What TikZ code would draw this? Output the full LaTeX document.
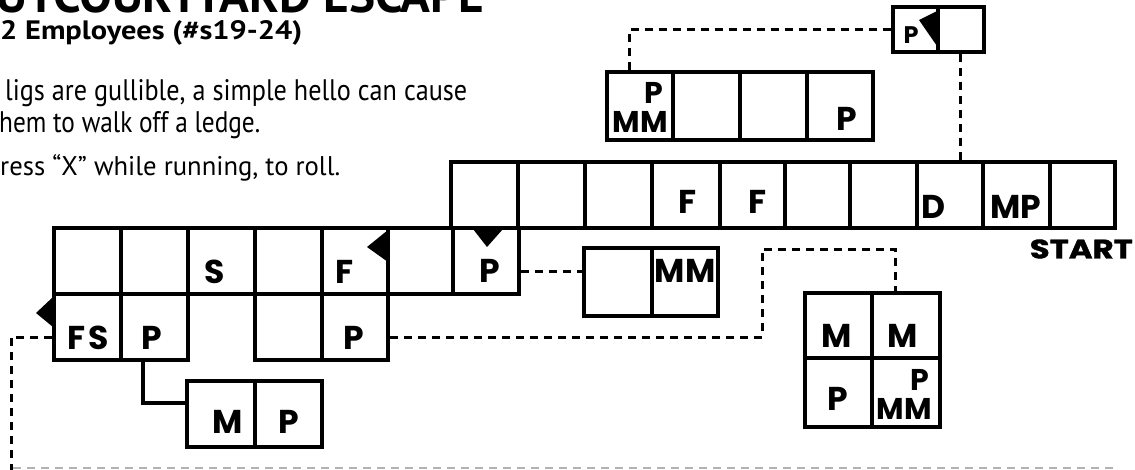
\documentclass[tikz,border=0pt]{standalone}
\usepackage{fontspec}
\setmainfont{PT Sans}
\newfontfamily\cellfont{Poppins}
\newfontfamily\startfont{Poppins}[FakeBold=1.2]
\usetikzlibrary{fit}
\tikzset{
  cell/.style={draw, line width=4pt, inner sep=0pt},
  lab/.style={inner sep=0pt, font=\cellfont\bfseries\fontsize{33}{33}\selectfont},
  labsm/.style={inner sep=0pt, font=\cellfont\bfseries\fontsize{30}{30}\selectfont},
  labxs/.style={inner sep=0pt, font=\cellfont\bfseries\fontsize{24}{24}\selectfont},
  conn/.style={line width=3pt, dash pattern=on 8pt off 6pt},
  solidconn/.style={line width=3.5pt},
  flagmark/.style={fill=black},
  sep/.style={line width=2pt, draw=black!30, dash pattern=on 8pt off 6pt},
  txt/.style={inner sep=0pt, anchor=base west}
}
\begin{document}
\begin{tikzpicture}[x=1pt,y=-1pt]
\useasboundingbox (0,0) rectangle (1135,469);
\clip (0,0) rectangle (1135,469);

% ---------- texts ----------
\node[txt] (title) at (-4,12) {\resizebox{488pt}{!}{\bfseries UTCOURTYARD ESCAPE}};
\node[txt] (sub) at (0,39) {\resizebox{302pt}{19pt}{\bfseries 2 Employees (\#s19-24)}};
\node[txt] (b1) at (5,100) {\resizebox{462pt}{21pt}{ligs are gullible, a simple hello can cause}};
\node[txt] (b2) at (-1,132) {\resizebox{261pt}{21pt}{hem to walk off a ledge.}};
\node[txt] (b3) at (0,175) {\resizebox{340pt}{21pt}{ress “X” while running, to roll.}};

% ---------- upper right row ----------
\node[cell, fit={(451,162)(518,228)}] (u1) {};
\node[cell, fit={(518,162)(585,228)}] (u2) {};
\node[cell, fit={(585,162)(652,228)}] (u3) {};
\node[cell, fit={(652,162)(720,228)}] (u4) {};
\node[cell, fit={(720,162)(785,228)}] (u5) {};
\node[cell, fit={(785,162)(850,228)}] (u6) {};
\node[cell, fit={(850,162)(917,228)}] (u7) {};
\node[cell, fit={(917,162)(983,228)}] (u8) {};
\node[cell, fit={(983,162)(1050,228)}] (u9) {};
\node[cell, fit={(1050,162)(1115,228)}] (u10) {};
\node[lab] (u4t) at (688,202) {F};
\node[lab] (u5t) at (758,202) {F};
\node[lab] (u8t) at (933,207) {D};
\node[lab] (u9t) at (1016,207) {MP};
\node[anchor=east, inner sep=0pt] (start) at (1133,249) {\resizebox{103pt}{19pt}{\startfont\bfseries START}};

% ---------- left row ----------
\node[cell, fit={(54,228)(121,294)}] (l1) {};
\node[cell, fit={(121,228)(188,294)}] (l2) {};
\node[cell, fit={(188,228)(255,294)}] (l3) {};
\node[cell, fit={(255,228)(322,294)}] (l4) {};
\node[cell, fit={(322,228)(388,294)}] (l5) {};
\node[cell, fit={(388,228)(453,294)}] (l6) {};
\node[cell, fit={(453,228)(519,294)}] (l7) {};
\node[lab] (l3t) at (215,272) {S};
\node[lab] (l5t) at (345,272) {F};
\node[lab] (l7t) at (490,271) {P};

% ---------- second row ----------
\node[cell, fit={(54,294)(121,360)}] (d1) {};
\node[cell, fit={(121,294)(188,360)}] (d2) {};
\node[cell, fit={(255,294)(322,360)}] (d4) {};
\node[cell, fit={(322,294)(388,360)}] (d5) {};
\node[lab] (d1t) at (88,338) {F\kern3pt S};
\node[lab] (d2t) at (152,338) {P};
\node[lab] (d5t) at (354,338) {P};

% ---------- M P box ----------
\node[cell, fit={(187,381)(255,447)}] (m1) {};
\node[cell, fit={(255,381)(322,447)}] (m2) {};
\node[lab] (m1t) at (228,422) {M};
\node[lab] (m2t) at (289,422) {P};

% ---------- middle box ----------
\node[cell, fit={(584,248)(652,316)}] (c1) {};
\node[cell, fit={(652,248)(718,316)}] (c2) {};
\node[lab] (c2t) at (685,271) {MM};

% ---------- 2x2 box ----------
\node[cell, fit={(805,293)(872,358)}] (q11) {};
\node[cell, fit={(872,293)(940,358)}] (q12) {};
\node[cell, fit={(805,358)(872,427)}] (q21) {};
\node[cell, fit={(872,358)(940,427)}] (q22) {};
\node[lab] (q11t) at (837,336) {M};
\node[lab] (q12t) at (903,336) {M};
\node[lab] (q21t) at (838,399) {P};
\node[labsm] (q22a) at (920,380) {P};
\node[labsm] (q22b) at (904,409) {MM};

% ---------- upper box ----------
\node[cell, fit={(607,72)(673,140)}] (t1) {};
\node[cell, fit={(673,72)(740,140)}] (t2) {};
\node[cell, fit={(740,72)(807,140)}] (t3) {};
\node[cell, fit={(807,72)(873,140)}] (t4) {};
\node[labsm] (t1a) at (654,93) {P};
\node[labsm] (t1b) at (640,122) {MM};
\node[lab] (t4t) at (847,119) {P};

% ---------- small top box ----------
\node[cell, fit={(893,7)(938,52)}] (s1) {};
\node[cell, fit={(938,7)(984,52)}] (s2) {};
\node[labxs] (s1t) at (911,35) {P};

% ---------- markers ----------
\fill[flagmark] (53,297) -- (36,313) -- (53,327) -- cycle;
\fill[flagmark] (388,230) -- (367,247) -- (388,262) -- cycle;
\fill[flagmark] (473,229) -- (503,229) -- (487,247) -- cycle;
\fill[flagmark] (937,11) -- (919,20) -- (937,46) -- cycle;

% ---------- connectors ----------
\coordinate (offL) at (11,475);
\coordinate (k1) at (762,249);
\draw[solidconn] ([xshift=-11.5pt]d2.south) |- ([yshift=11pt]m1.west);
\draw[conn] ([yshift=-10pt]d1.west) -| (offL);
\draw[conn] ([yshift=-10pt]d5.east) -| (k1) -| ([xshift=-11pt]q12.north);
\draw[conn] ([yshift=-10pt]l7.east) -- ([yshift=-10pt]l7.east -| c1.west);
\draw[conn] ([xshift=-11pt]t1.north) |- (s1.west);
\draw[conn] ([xshift=-1pt]s2.south) -- ([xshift=-1pt]s2.south |- u8.north);

% ---------- bottom separator ----------
\coordinate (sepA) at (13,468);
\coordinate (sepB) at (1117,468);
\draw[sep] (sepA) -- (sepB);
\end{tikzpicture}
\end{document}
